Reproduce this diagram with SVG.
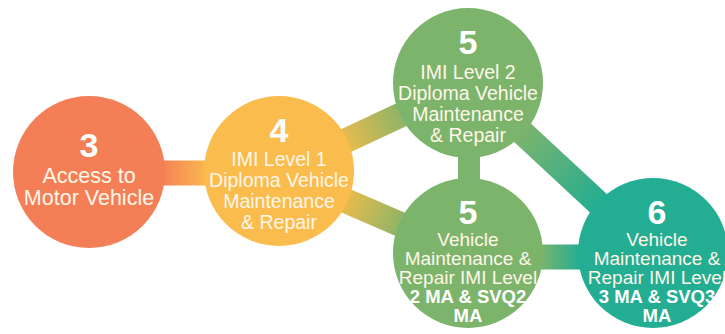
<svg xmlns="http://www.w3.org/2000/svg" width="725" height="334" viewBox="0 0 725 334">
<defs>
<linearGradient id="g34" gradientUnits="userSpaceOnUse" x1="160" y1="0" x2="210" y2="0"><stop offset="0" stop-color="#F47F57"/><stop offset="1" stop-color="#FBBC4E"/></linearGradient>
<linearGradient id="g45a" gradientUnits="userSpaceOnUse" x1="345" y1="140" x2="400" y2="110"><stop offset="0" stop-color="#E6BB4E"/><stop offset="1" stop-color="#8DB466"/></linearGradient>
<linearGradient id="g45b" gradientUnits="userSpaceOnUse" x1="345" y1="205" x2="400" y2="230"><stop offset="0" stop-color="#E6BB4E"/><stop offset="1" stop-color="#8DB466"/></linearGradient>
<linearGradient id="g5a6" gradientUnits="userSpaceOnUse" x1="520" y1="130" x2="600" y2="205"><stop offset="0" stop-color="#7DB46C"/><stop offset="1" stop-color="#23AD92"/></linearGradient>
<linearGradient id="g5b6" gradientUnits="userSpaceOnUse" x1="540" y1="0" x2="580" y2="0"><stop offset="0" stop-color="#7DB46C"/><stop offset="1" stop-color="#23AD92"/></linearGradient>
<style>
.num{font-family:"Liberation Sans",Arial,sans-serif;font-weight:bold;font-size:34px;fill:#fff;text-anchor:middle}
.t{font-family:"Liberation Sans",Arial,sans-serif;font-size:19.5px;fill:#FFF6E8;text-anchor:middle}
.l{font-size:21.5px}
.s{font-size:19px}
.b{font-weight:bold;fill:#fff;font-size:18.5px}
.band{stroke-width:25;fill:none}
</style>
</defs>
<g id="connectors">
<line class="band" x1="89" y1="173" x2="279" y2="173" stroke="url(#g34)"/>
<line class="band" x1="279" y1="172" x2="469" y2="83" stroke="url(#g45a)"/>
<line class="band" x1="279" y1="172" x2="469" y2="254" stroke="url(#g45b)"/>
<line x1="469" y1="83" x2="469" y2="254" stroke="#7DB46C" stroke-width="22"/>
<line class="band" x1="469" y1="83" x2="653" y2="254" stroke="url(#g5a6)"/>
<line class="band" x1="469" y1="257" x2="653" y2="257" stroke="url(#g5b6)"/>
</g>
<g id="n3">
<circle cx="89" cy="172" r="76" fill="#F47F57"/>
<text class="num" x="89" y="157">3</text>
<text class="t l" x="89" y="183">Access to</text>
<text class="t l" x="89" y="205">Motor Vehicle</text>
</g>
<g id="n4">
<circle cx="279" cy="171" r="75" fill="#FBBC4E"/>
<text class="num" x="279" y="142">4</text>
<text class="t" x="279" y="166">IMI Level 1</text>
<text class="t" x="279" y="187">Diploma Vehicle</text>
<text class="t" x="279" y="208">Maintenance</text>
<text class="t" x="279" y="229">&amp; Repair</text>
</g>
<g id="n5a">
<circle cx="468" cy="83" r="75" fill="#7DB46C"/>
<text class="num" x="468" y="54">5</text>
<text class="t" x="468" y="79">IMI Level 2</text>
<text class="t" x="468" y="100">Diploma Vehicle</text>
<text class="t" x="468" y="121">Maintenance</text>
<text class="t" x="468" y="142">&amp; Repair</text>
</g>
<g id="n5b">
<circle cx="468" cy="253" r="75" fill="#7DB46C"/>
<text class="num" x="468" y="224">5</text>
<text class="t s" x="468" y="246">Vehicle</text>
<text class="t s" x="468" y="265">Maintenance &amp;</text>
<text class="t s" x="468" y="284">Repair IMI Level</text>
<text class="t b" x="468" y="303">2 MA &amp; SVQ2</text>
<text class="t b" x="468" y="322">MA</text>
</g>
<g id="n6">
<circle cx="653" cy="253" r="75" fill="#23AD92"/>
<text class="num" x="657" y="224">6</text>
<text class="t s" x="657" y="246">Vehicle</text>
<text class="t s" x="657" y="265">Maintenance &amp;</text>
<text class="t s" x="657" y="284">Repair IMI Level</text>
<text class="t b" x="657" y="303">3 MA &amp; SVQ3</text>
<text class="t b" x="657" y="322">MA</text>
</g>
</svg>
